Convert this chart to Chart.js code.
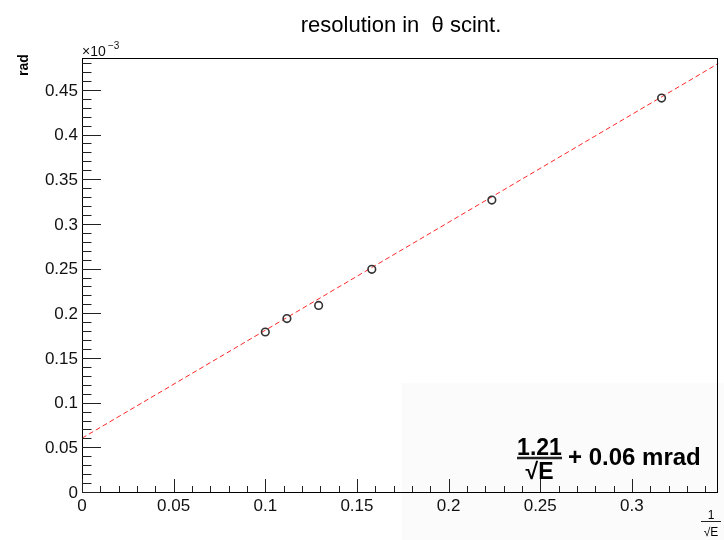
<!DOCTYPE html>
<html>
<head>
<meta charset="utf-8">
<script src="https://cdn.jsdelivr.net/npm/chart.js@4"></script>
<style>
  html,body{margin:0;padding:0;background:#fff;}
  canvas{display:block;}
</style>
</head>
<body>
<canvas id="c" width="724" height="540"></canvas>
<script>
// resolution in theta (scint.) vs 1/sqrt(E), y in units of 1e-3 rad
const invSqrtE = [0.1, 0.1118, 0.1291, 0.1581, 0.2236, 0.3162];
const resolution = [0.179, 0.194, 0.2088, 0.2491, 0.3266, 0.4408];
const fitX = [0, 0.3472];
const fitY = [0.0602, 0.4795];
const xTicks = [0, 0.05, 0.1, 0.15, 0.2, 0.25, 0.3];
const xTickLabels = ["0", "0.05", "0.1", "0.15", "0.2", "0.25", "0.3"];
const yTicks = [0, 0.05, 0.1, 0.15, 0.2, 0.25, 0.3, 0.35, 0.4, 0.45];
const yTickLabels = ["0", "0.05", "0.1", "0.15", "0.2", "0.25", "0.3", "0.35", "0.4", "0.45"];
const X_MAX = 0.3472, Y_MAX = 0.4856;

const FONT = '"Liberation Sans", Arial, Helvetica, sans-serif';

const rootStyle = {
  id: "rootStyle",
  beforeDraw(chart){
    const c = chart.ctx;
    c.save();
    c.fillStyle = "#fff"; c.fillRect(0,0,chart.width,chart.height);
    // shaded pave behind the formula
    c.fillStyle = "#fbfbfb"; c.fillRect(402,383,322,157);
    c.restore();
  },
  afterDatasetsDraw(chart){
    const c = chart.ctx, a = chart.chartArea;
    const xs = chart.scales.x, ys = chart.scales.y;
    c.save();
    // frame
    c.strokeStyle = "#000"; c.lineWidth = 1;
    c.strokeRect(Math.round(a.left)+0.5, Math.round(a.top)+0.5, Math.round(a.right-a.left)-1, Math.round(a.bottom-a.top));
    c.strokeStyle = "#222";
    c.beginPath();
    // y ticks (inside the frame)
    for(let i=0;i<=48;i++){
      const v = i/100; if(v > Y_MAX) break;
      const py = Math.round(ys.getPixelForValue(v))+0.5;
      const len = (i%5===0) ? 19 : 9.5;
      c.moveTo(a.left, py); c.lineTo(a.left+len, py);
    }
    // x ticks
    for(let i=0;i<=34;i++){
      const v = i/100; if(v > X_MAX) break;
      const px = Math.round(xs.getPixelForValue(v))+0.5;
      const len = (i%5===0) ? 13 : 6;
      c.moveTo(px, a.bottom); c.lineTo(px, a.bottom-len);
    }
    c.stroke();
    // tick labels
    c.fillStyle = "#111";
    c.font = "17px " + FONT;
    c.textAlign = "right"; c.textBaseline = "middle";
    yTicks.forEach((v,i)=>{
      c.fillText(yTickLabels[i], a.left-4, ys.getPixelForValue(v)+1);
    });
    c.textAlign = "center"; c.textBaseline = "alphabetic";
    xTicks.forEach((v,i)=>{
      c.fillText(xTickLabels[i], xs.getPixelForValue(v), 511);
    });
    // exponent
    c.textAlign = "left";
    c.font = "14px " + FONT;
    c.fillText("\u00d710", 82, 56);
    c.font = "10px " + FONT;
    c.fillText("\u22123", 108, 49);
    // title
    c.textAlign = "center";
    c.font = "22px " + FONT;
    c.fillStyle = "#000";
    c.fillText("resolution in  \u03b8 scint.", 401, 32);
    // y title
    c.save();
    c.translate(28, 65); c.rotate(-Math.PI/2);
    c.font = "bold 14px " + FONT;
    c.textBaseline = "alphabetic";
    c.fillText("rad", 0, 0);
    c.restore();
    // x title: 1/sqrt(E)
    c.font = "12px " + FONT;
    c.fillText("1", 711, 519);
    c.lineWidth = 1;
    c.beginPath(); c.moveTo(701, 521.5); c.lineTo(721, 521.5); c.stroke();
    c.fillText("\u221aE", 711, 536);
    // fit result
    c.font = "bold 23px " + FONT;
    c.fillText("1.21", 539.5, 455);
    c.lineWidth = 2.5;
    c.beginPath(); c.moveTo(517, 458); c.lineTo(562, 458); c.stroke();
    c.fillText("\u221aE", 539.5, 479);
    c.textAlign = "left";
    c.font = "bold 24px " + FONT;
    c.fillText("+ 0.06 mrad", 568, 465);
    c.restore();
  }
};

new Chart(document.getElementById("c"), {
  type: "scatter",
  data: {
    datasets: [
      {
        type: "line",
        data: fitX.map((x,i)=>({x, y: fitY[i]})),
        borderColor: "rgba(255,0,0,0.85)",
        borderWidth: 1,
        borderDash: [5,3],
        pointRadius: 0,
        fill: false,
        order: 2
      },
      {
        data: invSqrtE.map((x,i)=>({x, y: resolution[i]})),
        pointStyle: "circle",
        pointRadius: 3.8,
        borderColor: "#333",
        borderWidth: 1.6,
        backgroundColor: "rgba(0,0,0,0)",
        order: 1
      }
    ]
  },
  options: {
    responsive: false,
    animation: false,
    layout: { padding: { left: 82, top: 58, right: 2, bottom: 48 } },
    plugins: { legend: { display: false }, tooltip: { enabled: false }, title: { display: false } },
    scales: {
      x: { type: "linear", min: 0, max: X_MAX, display: false },
      y: { type: "linear", min: 0, max: Y_MAX, display: false }
    }
  },
  plugins: [rootStyle]
});
</script>
</body>
</html>
